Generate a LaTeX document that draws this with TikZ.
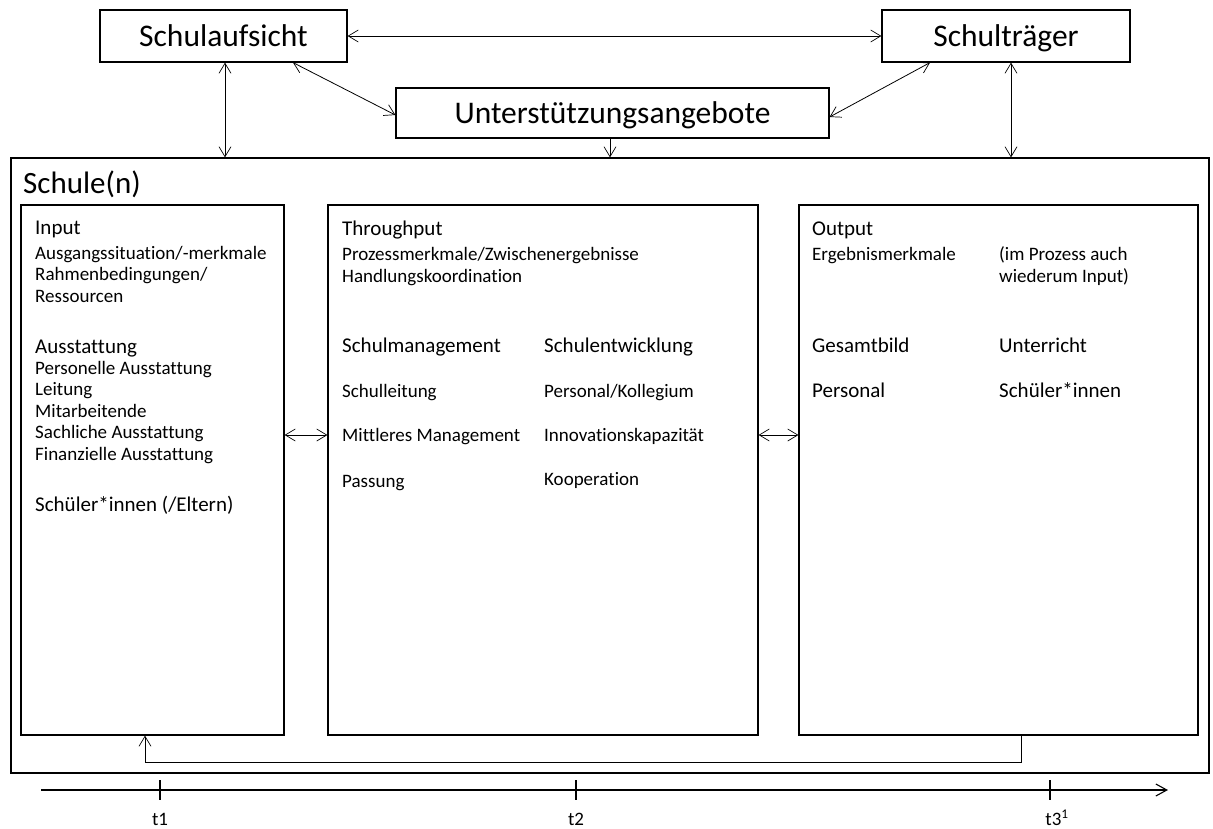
\documentclass[tikz,border=0pt]{standalone}
\usepackage{fontspec}
\setmainfont{Carlito}[Ligatures=NoCommon]
\usetikzlibrary{arrows.meta,positioning}

\tikzset{
  box/.style={draw,line width=1.2pt,inner sep=0pt},
  big/.style={font=\fontsize{31.5}{36}\selectfont,text height=24pt,text depth=3pt},
  mid/.style={font=\fontsize{21}{25}\selectfont,anchor=base west,inner sep=0pt},
  small/.style={font=\fontsize{19}{22}\selectfont,anchor=base west,inner sep=0pt},
  barb/.tip={Straight Barb[length=10pt,width=12pt,line width=0.7pt]},
  link/.style={line width=0.8pt,barb-barb},
  onelink/.style={line width=0.8pt,-barb},
  axis/.style={line width=1.3pt,-{Straight Barb[length=11pt,width=12pt,line width=1.1pt]}},
  tick/.style={line width=1.3pt}
}

\begin{document}
\begin{tikzpicture}[x=1pt,y=-1pt]
  \useasboundingbox (0,0) rectangle (1213,828);
  % top level
  \node[box,big,minimum width=247pt,minimum height=52pt] (aufsicht) at (223.5,36) {Schulaufsicht};
  \node[box,big,minimum width=248pt,minimum height=52pt] (traeger) at (1006,36) {Schulträger};
  \node[box,big,minimum width=433pt,minimum height=50pt] (unter) at (612.5,113) {Unterstützungsangebote};
  % schule(n)
  \node[box,minimum width=1198pt,minimum height=615pt] (schule) at (610,465.5) {};
  \node[font=\fontsize{31}{36}\selectfont,anchor=base west,inner sep=0pt] (schulen) at (23,193) {Schule(n)};
  \node[box,minimum width=263pt,minimum height=530pt] (in) at (152.5,470) {};
  \node[box,minimum width=430pt,minimum height=530pt] (through) at (543,470) {};
  \node[box,minimum width=399pt,minimum height=530pt] (out) at (998.5,470) {};
  % input
  \node[mid] (in-h) at (35,234) {Input};
  \foreach \y/\t [count=\i] in {259/{Ausgangssituation/-merkmale},280/{Rahmenbedingungen/},302/Ressourcen,
      374/Personelle Ausstattung,395/Leitung,417/Mitarbeitende,438/Sachliche Ausstattung,460/Finanzielle Ausstattung}
    \node[small] (in-l\i) at (35,\y) {\t};
  \node[mid] (in-m1) at (35,353) {Ausstattung};
  \node[mid] (in-m2) at (35,511) {Schüler*innen (/Eltern)};
  % throughput
  \node[mid] (through-h) at (342,235) {Throughput};
  \node[small] (through-l1) at (342,260) {Prozessmerkmale/Zwischenergebnisse};
  \node[small] (through-l2) at (342,282) {Handlungskoordination};
  \node[mid] (through-m1) at (342,352) {Schulmanagement};
  \node[mid] (through-m2) at (544,352) {Schulentwicklung};
  \foreach \y/\a/\b [count=\i] in {397/Schulleitung/{Personal/Kollegium},441/Mittleres Management/Innovationskapazität}
    {\node[small] (through-a\i) at (342,\y) {\a};
     \node[small] (through-b\i) at (544,\y) {\b};}
  \node[small] (through-a3) at (342,487) {Passung};
  \node[small] (through-b3) at (544,485) {Kooperation};
  % output
  \node[mid] (out-h) at (812,235) {Output};
  \node[small] (out-l1) at (812,260) {Ergebnismerkmale};
  \node[small] (out-r1) at (999,260) {(im Prozess auch};
  \node[small] (out-r2) at (999,282) {wiederum Input)};
  \node[mid] (out-a1) at (812,352) {Gesamtbild};
  \node[mid] (out-b1) at (999,352) {Unterricht};
  \node[mid] (out-a2) at (812,397) {Personal};
  \node[mid] (out-b2) at (999,397) {Schüler*innen};
  % connectors
  \draw[link] (aufsicht) -- (traeger);
  \draw[link] ([xshift=1.5pt]aufsicht.south) -- ([xshift=1.5pt]aufsicht.south |- schule.north);
  \draw[link] ([xshift=5pt]traeger.south) -- ([xshift=5pt]traeger.south |- schule.north);
  \draw[onelink] ([xshift=-2.5pt]unter.south) -- ([xshift=-2.5pt]unter.south |- schule.north);
  \draw[link] ([xshift=69.5pt]aufsicht.south) -- ([yshift=-2pt]unter.west);
  \draw[link] ([xshift=-76pt]traeger.south) -- ([yshift=-4pt]unter.east);
  \draw[link] ([yshift=35pt]in.east) -- ([yshift=35pt]through.west);
  \draw[link] ([yshift=35pt]through.east) -- ([yshift=35pt]out.west);
  \draw[onelink] ([xshift=22.5pt]out.south) -- ++(0,27) -| ([xshift=-7.5pt]in.south);
  % time axis
  \coordinate (ax0) at (41,790);
  \coordinate (ax1) at (1168,790);
  \draw[axis] (ax0) -- (ax1);
  \foreach \x/\lx/\t [count=\i] in {160/160/t1,576/576/t2,1050/1057/{t3\textsuperscript{1}}}
    {\draw[tick] (\x,780) -- (\x,800);
     \node[small,anchor=base] (t\i) at (\lx,825) {\t};}
\end{tikzpicture}
\end{document}
